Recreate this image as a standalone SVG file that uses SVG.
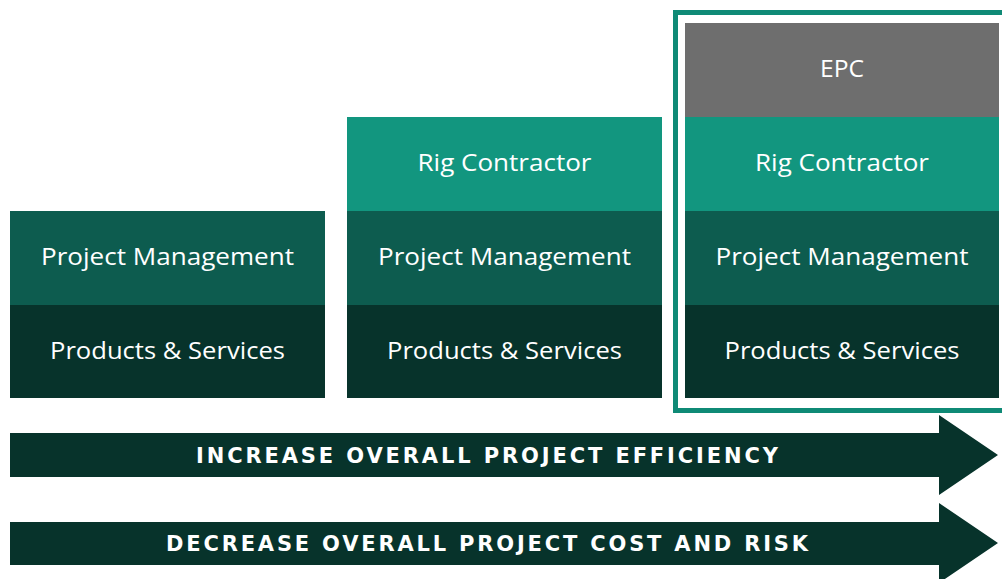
<svg xmlns="http://www.w3.org/2000/svg" width="1002" height="579" viewBox="0 0 1002 579">
<style>
.lbl{font-family:"Open Sans","Liberation Sans",sans-serif;font-size:23px;font-weight:500;fill:#ffffff;text-anchor:middle;dominant-baseline:central}
.arr{font-family:"DejaVu Sans","Liberation Sans",sans-serif;font-size:21px;font-weight:bold;fill:#ffffff;text-anchor:middle;dominant-baseline:central}
.ps{fill:#07332b}.pm{fill:#0d5c4f}.rig{fill:#12967f}.epc{fill:#6e6e6e}
</style>
<rect width="1002" height="579" fill="#ffffff"/>
<g id="frame"><rect x="675.5" y="12.5" width="330" height="398" fill="none" stroke="#0f8a76" stroke-width="5"/></g>
<g id="col1-pm"><rect class="pm" x="10" y="211" width="315" height="94"/><text class="lbl" x="167.5" y="256" textLength="253" lengthAdjust="spacingAndGlyphs">Project Management</text></g>
<g id="col1-ps"><rect class="ps" x="10" y="305" width="315" height="93"/><text class="lbl" x="167.5" y="350" textLength="235" lengthAdjust="spacingAndGlyphs">Products &amp; Services</text></g>
<g id="col2-rig"><rect class="rig" x="347" y="117" width="315" height="94"/><text class="lbl" x="504.5" y="162" textLength="174" lengthAdjust="spacingAndGlyphs">Rig Contractor</text></g>
<g id="col2-pm"><rect class="pm" x="347" y="211" width="315" height="94"/><text class="lbl" x="504.5" y="256" textLength="253" lengthAdjust="spacingAndGlyphs">Project Management</text></g>
<g id="col2-ps"><rect class="ps" x="347" y="305" width="315" height="93"/><text class="lbl" x="504.5" y="350" textLength="235" lengthAdjust="spacingAndGlyphs">Products &amp; Services</text></g>
<g id="col3-epc"><rect class="epc" x="685" y="23" width="314" height="94"/><text class="lbl" x="842" y="68" textLength="44" lengthAdjust="spacingAndGlyphs">EPC</text></g>
<g id="col3-rig"><rect class="rig" x="685" y="117" width="314" height="94"/><text class="lbl" x="842" y="162" textLength="174" lengthAdjust="spacingAndGlyphs">Rig Contractor</text></g>
<g id="col3-pm"><rect class="pm" x="685" y="211" width="314" height="94"/><text class="lbl" x="842" y="256" textLength="253" lengthAdjust="spacingAndGlyphs">Project Management</text></g>
<g id="col3-ps"><rect class="ps" x="685" y="305" width="314" height="93"/><text class="lbl" x="842" y="350" textLength="235" lengthAdjust="spacingAndGlyphs">Products &amp; Services</text></g>
<g id="arrow1"><polygon class="ps" points="10,433 939,433 939,415 998,455 939,495 939,477 10,477"/><text class="arr" x="487" y="456" textLength="582" lengthAdjust="spacing">INCREASE OVERALL PROJECT EFFICIENCY</text></g>
<g id="arrow2"><polygon class="ps" points="10,522 939,522 939,503 998,543 939,583 939,565 10,565"/><text class="arr" x="487" y="544" textLength="642" lengthAdjust="spacing">DECREASE OVERALL PROJECT COST AND RISK</text></g>
</svg>
